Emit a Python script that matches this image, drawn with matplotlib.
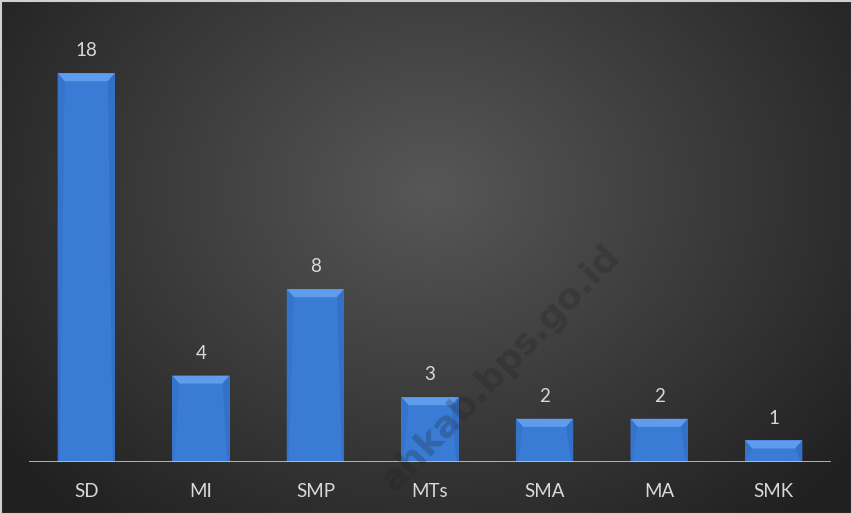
import matplotlib.pyplot as plt
import numpy as np
from matplotlib.patches import Polygon, Rectangle

# ============================================================
# Data
# ============================================================
categories = ["SD", "MI", "SMP", "MTs", "SMA", "MA", "SMK"]
values = [18, 4, 8, 3, 2, 2, 1]

plt.rcParams.update({
    "font.family": ["Lato", "DejaVu Sans"],
    "font.size": 13.5,
})

W, H = 852, 514
fig = plt.figure(figsize=(W / 100, H / 100), dpi=100)

# ============================================================
# Radial gradient background
# ============================================================
bg = fig.add_axes([0, 0, 1, 1])
yy, xx = np.mgrid[0:H, 0:W]
r = np.sqrt(((xx - 430) / 520.0) ** 2 + ((yy - 190) / 420.0) ** 2)
shade = np.clip(0x57 - (0x57 - 0x22) * r, 0x20, 0x60) / 255.0
bg.imshow(np.dstack([shade, shade, shade]), aspect="auto", extent=[0, W, H, 0])
bg.set_xlim(0, W)
bg.set_ylim(H, 0)
bg.axis("off")
bg.add_patch(Rectangle((0.5, 0.5), W - 1, H - 1, fill=False,
                       edgecolor="#d0d0d0", linewidth=1.5))

# ============================================================
# Bars
# ============================================================
left, right, base, top = 29, 831, 462, 30
ax = fig.add_axes([left / W, 1 - base / H, (right - left) / W, (base - top) / H])
ax.patch.set_visible(False)
ax.set_xlim(-0.5, len(categories) - 0.5)
ax.set_ylim(0, 20)

x = np.arange(len(categories))
bars = ax.bar(x, values, width=0.5, color="#3a7bd6", zorder=3)

# bevel effect
px_x = (len(categories)) / (right - left)
px_y = 20 / (base - top)
bx, by = 7 * px_x, 8 * px_y
for b in bars:
    x0, w, h = b.get_x(), b.get_width(), b.get_height()
    x1 = x0 + w
    ax.add_patch(Polygon([(x0, h), (x1, h), (x1 - bx, h - by), (x0 + bx, h - by)],
                         closed=True, facecolor="#5f9ceb", edgecolor="none", zorder=4))
    ax.add_patch(Polygon([(x0, h), (x0 + bx, h - by), (x0 + 2 * px_x, 0), (x0, 0)],
                         closed=True, facecolor="#3674cc", edgecolor="none", zorder=4))
    ax.add_patch(Polygon([(x1, h), (x1 - bx, h - by), (x1 - 2 * px_x, 0), (x1, 0)],
                         closed=True, facecolor="#3470c6", edgecolor="none", zorder=4))
    ax.annotate(f"{int(h)}", (b.get_x() + w / 2, h), xytext=(0, 10),
                textcoords="offset points", ha="center", va="bottom",
                color="#d9d9d9", fontsize=13.5)

ax.axhline(0, color="#bfbfbf", linewidth=2, zorder=5)

ax.set_xticks(x)
ax.set_xticklabels(categories, color="#d9d9d9")
ax.tick_params(axis="x", length=0, pad=15)
ax.set_yticks([])
for s in ax.spines.values():
    s.set_visible(False)

# watermark (drawn over the bars)
wm = fig.text(622 / W, 1 - 258 / H, "ahkab.bps.go.id", rotation=46,
              rotation_mode="anchor", ha="right", va="baseline",
              fontsize=26, fontweight="bold", family="DejaVu Sans",
              color="#1e1e1e", alpha=0.25)
wm.set_zorder(10)

plt.savefig("out.png", dpi=100)
